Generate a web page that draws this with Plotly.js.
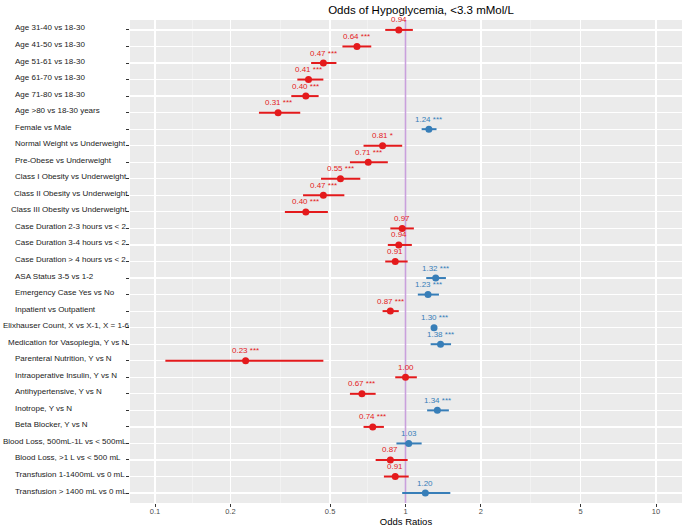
<!DOCTYPE html>
<html><head><meta charset="utf-8">
<script src="https://cdn.plot.ly/plotly-3.0.1.min.js"></script>
<style>html,body{margin:0;padding:0;background:#fff}#chart{width:685px;height:527px}</style>
</head><body><div id="chart"></div>
<script>
const labels = [
  "Age 31-40 vs 18-30", "Age 41-50 vs 18-30", "Age 51-61 vs 18-30", "Age 61-70 vs 18-30",
  "Age 71-80 vs 18-30", "Age >80 vs 18-30 years", "Female vs Male", "Normal Weight vs Underweight",
  "Pre-Obese vs Underweight", "Class I Obesity vs Underweight", "Class II Obesity vs Underweight",
  "Class III Obesity vs Underweight", "Case Duration 2-3 hours vs < 2", "Case Duration 3-4 hours vs < 2",
  "Case Duration > 4 hours vs < 2", "ASA Status 3-5 vs 1-2", "Emergency Case Yes vs No",
  "Inpatient vs Outpatient", "Elixhauser Count, X vs X-1, X = 1-6", "Medication for Vasoplegia, Y vs N",
  "Parenteral Nutrition, Y vs N", "Intraoperative Insulin, Y vs N", "Antihypertensive, Y vs N",
  "Inotrope, Y vs N", "Beta Blocker, Y vs N", "Blood Loss, 500mL-1L vs < 500mL",
  "Blood Loss, >1 L vs < 500 mL", "Transfusion 1-1400mL vs 0 mL", "Transfusion > 1400 mL vs 0 mL"
];
const oddsRatios = [0.94, 0.64, 0.47, 0.41, 0.40, 0.31, 1.24, 0.81, 0.71, 0.55, 0.47, 0.40, 0.97, 0.94, 0.91,
  1.32, 1.23, 0.87, 1.30, 1.38, 0.23, 1.00, 0.67, 1.34, 0.74, 1.03, 0.87, 0.91, 1.20];
const ciLower = [0.83, 0.56, 0.42, 0.37, 0.35, 0.26, 1.16, 0.68, 0.60, 0.46, 0.39, 0.33, 0.87, 0.85, 0.83,
  1.21, 1.12, 0.81, 1.28, 1.26, 0.11, 0.91, 0.60, 1.22, 0.68, 0.92, 0.76, 0.82, 0.97];
const ciUpper = [1.07, 0.73, 0.53, 0.47, 0.45, 0.38, 1.33, 0.97, 0.85, 0.66, 0.57, 0.49, 1.08, 1.06, 1.02,
  1.45, 1.36, 0.94, 1.32, 1.52, 0.47, 1.11, 0.76, 1.49, 0.82, 1.16, 1.02, 1.03, 1.51];
const stars = ["", "***", "***", "***", "***", "***", "***", "*", "***", "***", "***", "***", "", "", "",
  "***", "***", "***", "***", "***", "***", "", "***", "***", "***", "", "", "", ""];
const xTickVals = [0.1, 0.2, 0.5, 1, 2, 5, 10];
const xTickText = ["0.1", "0.2", "0.5", "1", "2", "5", "10"];
const minorGrid = [0.1414, 0.3162, 0.7071, 3.1623];

const RED = "#E41A1C", BLUE = "#377EB8";
const rows = labels.map((_, i) => i + 1);
const W = 685, ML = 130, MR = 3, PW = W - ML - MR;
const LABEL_FONT = 8, LABEL_FAMILY = "Liberation Sans";

function group(cond, color) {
  const idx = oddsRatios.map((v, i) => i).filter(i => cond(oddsRatios[i]));
  return {
    type: "scatter", mode: "markers",
    x: idx.map(i => oddsRatios[i]), y: idx.map(i => rows[i]),
    marker: {color: color, size: 7},
    error_x: {type: "data", symmetric: false,
      array: idx.map(i => ciUpper[i] - oddsRatios[i]),
      arrayminus: idx.map(i => oddsRatios[i] - ciLower[i]),
      width: 0, thickness: 2, color: color},
    hoverinfo: "skip", showlegend: false
  };
}

const refLine = {type: "scatter", mode: "lines", x: [1, 1], y: [0.4, 29.6],
  line: {color: "#C9A0DC", width: 1.6}, hoverinfo: "skip", showlegend: false};

const data = [refLine, group(v => v <= 1, RED), group(v => v > 1, BLUE)];

const ctx = document.createElement("canvas").getContext("2d");
ctx.font = LABEL_FONT + "px '" + LABEL_FAMILY + "'";

const annotations = [];
oddsRatios.forEach((v, i) => {
  annotations.push({
    x: Math.log10(v), y: rows[i], xref: "x", yref: "y",
    text: v.toFixed(2) + (stars[i] ? " " + stars[i] : ""),
    showarrow: false, yshift: 10, xanchor: "center", yanchor: "middle",
    font: {family: "Liberation Sans, Arial, sans-serif", size: 8, color: v > 1 ? BLUE : RED}
  });
});
labels.forEach((t, i) => {
  const w = ctx.measureText(t).width;
  const leftPx = Math.max(1, Math.min(13, 125 - w));
  annotations.push({
    x: (leftPx - ML) / PW, y: rows[i], xref: "paper", yref: "y", text: t,
    showarrow: false, xanchor: "left", yanchor: "middle", yshift: 2,
    font: {family: LABEL_FAMILY + ", Arial, sans-serif", size: LABEL_FONT, color: "#1a1a1a"}
  });
});

const layout = {
  width: W, height: 527,
  margin: {l: ML, r: MR, t: 20, b: 24},
  paper_bgcolor: "#ffffff", plot_bgcolor: "#EBEBEB",
  font: {family: "Liberation Sans, Arial, sans-serif"},
  title: {text: "Odds of Hypoglycemia, <3.3 mMol/L", x: 421 / 685, xref: "container",
    y: 1 - 10 / 527, yref: "container", xanchor: "center", yanchor: "middle",
    font: {size: 11.5, color: "#000"}},
  xaxis: {type: "log", range: [-1.0998, 1.1038], tickmode: "array", tickvals: xTickVals, ticktext: xTickText,
    ticks: "outside", ticklen: 3, tickcolor: "#333", tickwidth: 1, ticklabelstandoff: -2,
    tickfont: {size: 7.5, color: "#4d4d4d"},
    showgrid: true, gridcolor: "#ffffff", gridwidth: 1.2, zeroline: false, showline: false,
    minor: {tickmode: "array", tickvals: minorGrid, showgrid: true, gridcolor: "#f7f7f7", gridwidth: 0.6, ticks: ""},
    title: {text: "Odds Ratios", font: {size: 9.5, color: "#000"}, standoff: 1}},
  yaxis: {range: [29.6, 0.4], tickmode: "array", tickvals: rows, showticklabels: false,
    ticks: "outside", ticklen: 3, tickcolor: "#333", tickwidth: 1,
    showgrid: true, gridcolor: "#ffffff", gridwidth: 1.2, zeroline: false, showline: false},
  annotations: annotations
};

Plotly.newPlot("chart", data, layout, {displayModeBar: false, staticPlot: true});
</script></body></html>
